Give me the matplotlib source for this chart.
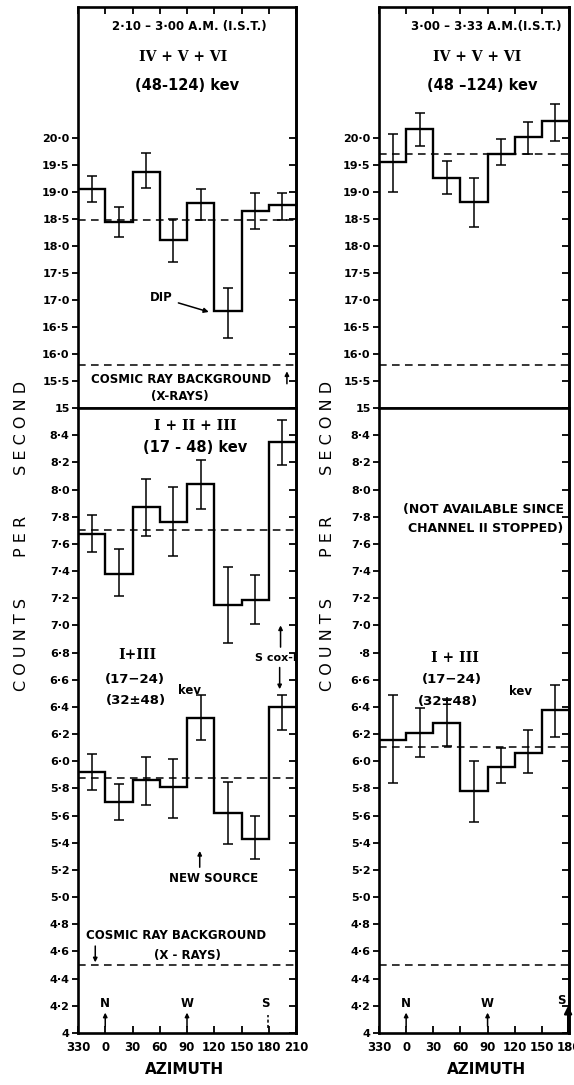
import matplotlib
matplotlib.use('Agg')
import matplotlib.pyplot as plt

# ---------------- data ----------------
edges_left = [-30, 0, 30, 60, 90, 120, 150, 180, 210]
edges_right = [-30, 0, 30, 60, 90, 120, 150, 180]
xtick_vals = [-30, 0, 30, 60, 90, 120, 150, 180, 210]
xtick_labels = ['330', '0', '30', '60', '90', '120', '150', '180', '210']

top_yticks = [15, 15.5, 16.0, 16.5, 17.0, 17.5, 18.0, 18.5, 19.0, 19.5, 20.0]
top_ylabels = ['15', '15·5', '16·0', '16·5', '17·0', '17·5', '18·0', '18·5',
               '19·0', '19·5', '20·0']
bot_yticks = [4.0, 4.2, 4.4, 4.6, 4.8, 5.0, 5.2, 5.4, 5.6, 5.8, 6.0, 6.2, 6.4,
              6.6, 6.8, 7.0, 7.2, 7.4, 7.6, 7.8, 8.0, 8.2, 8.4]
bot_ylabels_left = ['4', '4·2', '4·4', '4·6', '4·8', '5·0', '5·2', '5·4', '5·6',
                    '5·8', '6·0', '6·2', '6·4', '6·6', '6·8', '7·0', '7·2', '7·4',
                    '7·6', '7·8', '8·0', '8·2', '8·4']
bot_ylabels_right = ['4', '4·2', '4·4', '4·6', '4·8', '5·0', '5·2', '5·4', '5·6',
                     '5·8', '6·0', '6·2', '6·4', '6·6', '·8', '7·0', '7·2', '7·4',
                     '7·6', '7·8', '8·0', '8·2', '8·4']

# 2.10 - 3.00 AM : IV+V+VI (48-124 keV)
hi_left = [19.06, 18.45, 19.38, 18.12, 18.79, 16.80, 18.65, 18.76]
hi_left_lo = [18.82, 18.17, 19.07, 17.70, 18.48, 16.29, 18.32, 18.49]
hi_left_hi = [19.30, 18.72, 19.72, 18.51, 19.05, 17.23, 18.98, 18.99]
hi_left_mean = 18.48
hi_left_bg = 15.80

# 2.10 - 3.00 AM : I+II+III (17-48 keV)
mid_left = [7.67, 7.38, 7.87, 7.76, 8.04, 7.15, 7.19, 8.35]
mid_left_lo = [7.54, 7.22, 7.66, 7.51, 7.86, 6.87, 7.01, 8.18]
mid_left_hi = [7.81, 7.56, 8.08, 8.02, 8.22, 7.43, 7.37, 8.51]
mid_left_mean = 7.70

# 2.10 - 3.00 AM : I+III
lo_left = [5.92, 5.70, 5.86, 5.81, 6.32, 5.62, 5.43, 6.40]
lo_left_lo = [5.79, 5.57, 5.68, 5.58, 6.16, 5.39, 5.28, 6.23]
lo_left_hi = [6.05, 5.83, 6.03, 6.02, 6.49, 5.85, 5.60, 6.49]
lo_left_mean = 5.88
lo_left_bg = 4.50

# 3.00 - 3.33 AM : IV+V+VI
hi_right = [19.56, 20.17, 19.27, 18.82, 19.70, 20.02, 20.31]
hi_right_lo = [19.01, 19.85, 18.96, 18.35, 19.51, 19.70, 19.94]
hi_right_hi = [20.07, 20.47, 19.57, 19.27, 19.98, 20.29, 20.64]
hi_right_mean = 19.70
hi_right_bg = 15.79

# 3.00 - 3.33 AM : I+III
lo_right = [6.155, 6.21, 6.28, 5.78, 5.96, 6.06, 6.38]
lo_right_lo = [5.84, 6.03, 6.11, 5.55, 5.84, 5.91, 6.18]
lo_right_hi = [6.49, 6.39, 6.46, 6.00, 6.10, 6.23, 6.56]
lo_right_mean = 6.105
lo_right_bg = 4.50

# ---------------- figure ----------------
W, H = 574, 1085
fig = plt.figure(figsize=(W / 100, H / 100), dpi=100)
fig.patch.set_facecolor('white')

def rect(x0, x1, y0, y1):
    return [x0 / W, 1 - y1 / H, (x1 - x0) / W, (y1 - y0) / H]

TF = dict(family='DejaVu Sans', weight='bold', size=8.5)
TK = dict(family='DejaVu Sans', weight='bold', size=8)
RF = dict(family='DejaVu Serif', weight='bold', size=10)
BIG = dict(family='DejaVu Sans', weight='bold', size=10.5)
LW_SP = 1.9

def style(ax, xlim, ylim, yt, yl, top_panel):
    ax.set_xlim(*xlim)
    ax.set_ylim(*ylim)
    for s in ax.spines.values():
        s.set_linewidth(LW_SP)
    ax.set_yticks(yt)
    ax.set_yticklabels(yl, fontdict=TK)
    ax.tick_params(axis='y', direction='out', length=4, width=1.3, pad=2,
                   left=True, right=False)
    sec = ax.secondary_yaxis('right')
    sec.set_yticks(yt)
    sec.tick_params(direction='in', length=5, width=1.3, labelright=False)
    sec.spines['right'].set_linewidth(LW_SP)
    xt = [v for v in xtick_vals if xlim[0] <= v <= xlim[1]]
    ax.set_xticks(xt)
    if top_panel:
        ax.tick_params(axis='x', top=True, bottom=False, labelbottom=False,
                       direction='in', length=5, width=1.3)
    else:
        ax.set_xticklabels([xtick_labels[xtick_vals.index(v)] for v in xt],
                           fontdict=dict(family='DejaVu Sans', weight='bold', size=8.5))
        ax.tick_params(axis='x', top=False, bottom=True, direction='in',
                       length=5, width=1.3, pad=6)

def series(ax, edges, vals, lo, hi, mean, bg=None):
    ax.stairs(vals, edges, baseline=None, color='black', linewidth=1.7)
    centers = [(edges[i] + edges[i + 1]) / 2 for i in range(len(vals))]
    yerr = [[v - l for v, l in zip(vals, lo)], [h - v for v, h in zip(vals, hi)]]
    ax.errorbar(centers, vals, yerr=yerr, fmt='none', ecolor='black',
                elinewidth=1.1, capsize=3.5, capthick=1.1)
    ax.axhline(mean, color='black', linewidth=1.1, dashes=(5, 3.5))
    if bg is not None:
        ax.axhline(bg, color='black', linewidth=1.1, dashes=(5, 3.5))

def arrow(ax, x, y0, y1, ms=7, style='-|>', lw=1.1):
    ax.annotate('', xy=(x, y1), xytext=(x, y0),
                arrowprops=dict(arrowstyle=style, color='black', lw=lw,
                                mutation_scale=ms, shrinkA=0, shrinkB=0))

# ---- left column ----
axLT = fig.add_axes(rect(78, 296, 7, 408))
axLB = fig.add_axes(rect(78, 296, 408, 1033))
style(axLT, (-30, 210), (15, 22.43), top_yticks, top_ylabels, True)
style(axLB, (-30, 210), (4.0, 8.6), bot_yticks, bot_ylabels_left, False)
series(axLT, edges_left, hi_left, hi_left_lo, hi_left_hi, hi_left_mean, hi_left_bg)
series(axLB, edges_left, mid_left, mid_left_lo, mid_left_hi, mid_left_mean)
series(axLB, edges_left, lo_left, lo_left_lo, lo_left_hi, lo_left_mean, lo_left_bg)

axLT.text(93, 22.07, '2·10 – 3·00 A.M. (I.S.T.)', ha='center', va='center', **TF)
axLT.text(86, 21.5, 'IV + V + VI', ha='center', va='center', **RF)
axLT.text(90, 20.98, '(48-124) kev', ha='center', va='center', **BIG)
axLT.annotate('DIP', xy=(114, 16.78), xytext=(62, 17.04), ha='center', va='center',
              arrowprops=dict(arrowstyle='-|>', color='black', lw=1.1,
                              mutation_scale=7, shrinkA=2, shrinkB=0), **TF)
axLT.text(84, 15.52, 'COSMIC RAY BACKGROUND', ha='center', va='center', **TF)
axLT.text(82, 15.22, '(X-RAYS)', ha='center', va='center', **TF)
arrow(axLT, 200, 15.45, 15.68, ms=6)

axLB.text(99, 8.47, 'I + II + III', ha='center', va='center', **RF)
axLB.text(99, 8.31, '(17 - 48) kev', ha='center', va='center', **BIG)
axLB.text(35, 6.78, 'I+III', ha='center', va='center', **RF)
axLB.text(33, 6.60, '(17−24)', ha='center', va='center',
          family='DejaVu Sans', weight='bold', size=9.5)
axLB.text(34, 6.45, '(32±48)', ha='center', va='center',
          family='DejaVu Sans', weight='bold', size=9.5)
axLB.text(93, 6.52, 'kev', ha='center', va='center',
          family='DejaVu Sans', weight='bold', size=8.5)
axLB.text(188, 6.76, 'S cox-I', ha='center', va='center',
          family='DejaVu Sans', weight='bold', size=8)
arrow(axLB, 193, 6.84, 7.0, ms=6)
arrow(axLB, 192, 6.69, 6.53, ms=6)
axLB.text(119, 5.14, 'NEW SOURCE', ha='center', va='center', **TF)
arrow(axLB, 104, 5.22, 5.34, ms=6)
axLB.text(78, 4.72, 'COSMIC RAY BACKGROUND', ha='center', va='center', **TF)
axLB.text(91, 4.57, '(X - RAYS)', ha='center', va='center', **TF)
arrow(axLB, -11, 4.64, 4.52, ms=6)
axLB.text(0, 4.22, 'N', ha='center', va='center', **TF)
arrow(axLB, 0, 4.05, 4.15, ms=6)
axLB.text(90, 4.22, 'W', ha='center', va='center', **TF)
arrow(axLB, 90, 4.05, 4.15, ms=6)
axLB.text(176, 4.22, 'S', ha='center', va='center', **TF)
axLB.plot([179, 179], [4.04, 4.13], color='black', lw=1.1, dashes=(2, 1.5))

# ---- right column ----
axRT = fig.add_axes(rect(379, 569, 7, 408))
axRB = fig.add_axes(rect(379, 569, 408, 1033))
style(axRT, (-30, 180), (15, 22.43), top_yticks, top_ylabels, True)
style(axRB, (-30, 180), (4.0, 8.6), bot_yticks, bot_ylabels_right, False)
series(axRT, edges_right, hi_right, hi_right_lo, hi_right_hi, hi_right_mean, hi_right_bg)
series(axRB, edges_right, lo_right, lo_right_lo, lo_right_hi, lo_right_mean, lo_right_bg)

axRT.text(89, 22.07, '3·00 – 3·33 A.M.(I.S.T.)', ha='center', va='center', **TF)
axRT.text(79, 21.5, 'IV + V + VI', ha='center', va='center', **RF)
axRT.text(84, 20.98, '(48 –124) kev', ha='center', va='center', **BIG)

axRB.text(86, 7.85, '(NOT AVAILABLE SINCE', ha='center', va='center',
          family='DejaVu Sans', weight='bold', size=9)
axRB.text(88, 7.71, 'CHANNEL II STOPPED)', ha='center', va='center',
          family='DejaVu Sans', weight='bold', size=9)
axRB.text(54, 6.76, 'I + III', ha='center', va='center', **RF)
axRB.text(51, 6.60, '(17−24)', ha='center', va='center',
          family='DejaVu Sans', weight='bold', size=9.5)
axRB.text(46, 6.44, '(32±48)', ha='center', va='center',
          family='DejaVu Sans', weight='bold', size=9.5)
axRB.text(126, 6.51, 'kev', ha='center', va='center',
          family='DejaVu Sans', weight='bold', size=8.5)
axRB.text(0, 4.22, 'N', ha='center', va='center', **TF)
arrow(axRB, 0, 4.05, 4.15, ms=6)
axRB.text(90, 4.22, 'W', ha='center', va='center', **TF)
arrow(axRB, 90, 4.05, 4.15, ms=6)
axRB.text(172, 4.24, 'S', ha='center', va='center', **TF)
arrow(axRB, 179, 4.0, 4.2, ms=11, lw=1.6)

# ---- axis titles ----
ylab = 'C O U N T S        P E R        S E C O N D'
fig.text(22 / W, 1 - 536 / H, ylab, rotation=90, ha='center', va='center',
         family='DejaVu Sans', size=11.5)
fig.text(327 / W, 1 - 536 / H, ylab, rotation=90, ha='center', va='center',
         family='DejaVu Sans', size=11.5)
fig.text(184 / W, 1 - 1070 / H, 'AZIMUTH', ha='center', va='center',
         family='DejaVu Sans', weight='bold', size=11)
fig.text(486 / W, 1 - 1070 / H, 'AZIMUTH', ha='center', va='center',
         family='DejaVu Sans', weight='bold', size=11)

fig.savefig('out.png', dpi=100, facecolor='white')
